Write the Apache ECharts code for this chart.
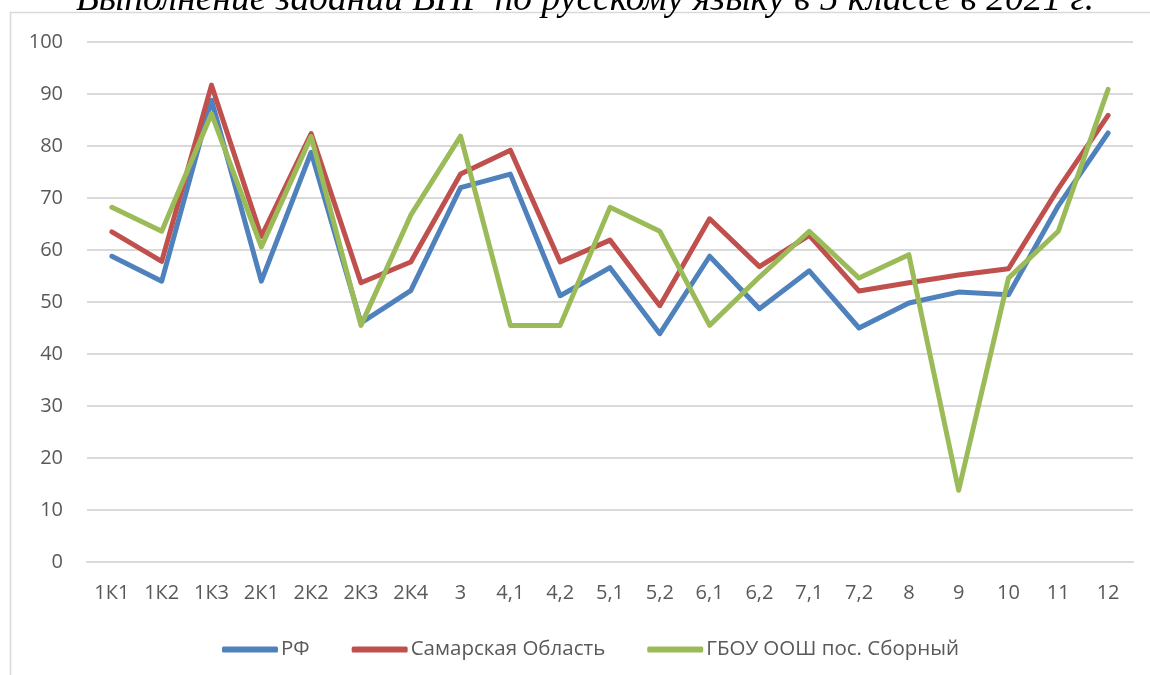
<!DOCTYPE html>
<html><head><meta charset="utf-8">
<script src="https://cdn.jsdelivr.net/npm/echarts@6/dist/echarts.min.js"></script>
<style>html,body{margin:0;padding:0;background:#fff}#c{width:1150px;height:675px}</style>
</head><body><div id="c"></div>
<script>
const titleText = 'Выполнение заданий ВПР по русскому языку в 5 классе в 2021 г.';
const categories = ['1К1','1К2','1К3','2К1','2К2','2К3','2К4','3','4,1','4,2','5,1','5,2','6,1','6,2','7,1','7,2','8','9','10','11','12'];
const seriesNames = ['РФ','Самарская Область','ГБОУ ООШ пос. Сборный'];
const rf      = [58.8, 54.0, 88.8, 54.0, 78.8, 46.0, 52.2, 72.0, 74.6, 51.2, 56.6, 43.9, 58.8, 48.7, 56.0, 45.0, 49.8, 51.9, 51.4, 68.5, 82.5];
const samara  = [63.5, 57.8, 91.7, 62.6, 82.4, 53.7, 57.7, 74.6, 79.2, 57.7, 61.9, 49.3, 66.0, 56.8, 62.8, 52.1, 53.7, 55.2, 56.4, 71.8, 85.9];
const school  = [68.2, 63.6, 86.2, 60.6, 81.8, 45.5, 66.7, 81.9, 45.5, 45.5, 68.2, 63.6, 45.5, 54.8, 63.6, 54.6, 59.1, 13.8, 54.6, 63.6, 90.9];
const yTicks = {min: 0, max: 100, interval: 10};
const colors = ['#4f81bd', '#c0504d', '#9bbb59'];

const chart = echarts.init(document.getElementById('c'), null, {renderer: 'canvas'});
const font = '"Open Sans", sans-serif';
chart.setOption({
  animation: false,
  color: colors,
  graphic: [
    {type: 'rect', shape: {x: 10.5, y: 12.5, width: 1300, height: 800}, style: {fill: 'none', stroke: '#d9d9d9', lineWidth: 1.5}, silent: true},
    {type: 'text', x: 585, y: 19, style: {text: titleText, fontFamily: '"Liberation Serif", serif', fontStyle: 'italic', fontSize: 37.5, fill: '#000', align: 'center', verticalAlign: 'bottom'}}
  ],
  grid: {left: 87, right: 17, top: 42, bottom: 113},
  legend: {
    bottom: 10, left: 217, itemWidth: 56, itemHeight: 6, itemGap: 42,
    icon: 'roundRect',
    textStyle: {fontFamily: font, fontSize: 20.5, color: '#595959', padding: [0, 0, 0, -2]},
    data: seriesNames
  },
  xAxis: {
    type: 'category', data: categories, boundaryGap: true,
    axisLine: {show: true, lineStyle: {color: '#d9d9d9', width: 2}},
    axisTick: {show: false},
    axisLabel: {fontFamily: font, fontSize: 20, color: '#595959', margin: 21, interval: 0}
  },
  yAxis: {
    type: 'value', min: yTicks.min, max: yTicks.max, interval: yTicks.interval,
    axisLine: {show: false}, axisTick: {show: false},
    splitLine: {lineStyle: {color: '#d9d9d9', width: 2}},
    axisLabel: {fontFamily: font, fontSize: 20, color: '#595959', margin: 24}
  },
  series: [rf, samara, school].map((d, i) => ({
    name: seriesNames[i], type: 'line', data: d, symbol: 'none',
    lineStyle: {width: 5, color: colors[i], cap: 'round', join: 'round'},
    itemStyle: {color: colors[i]}
  }))
});
</script></body></html>
